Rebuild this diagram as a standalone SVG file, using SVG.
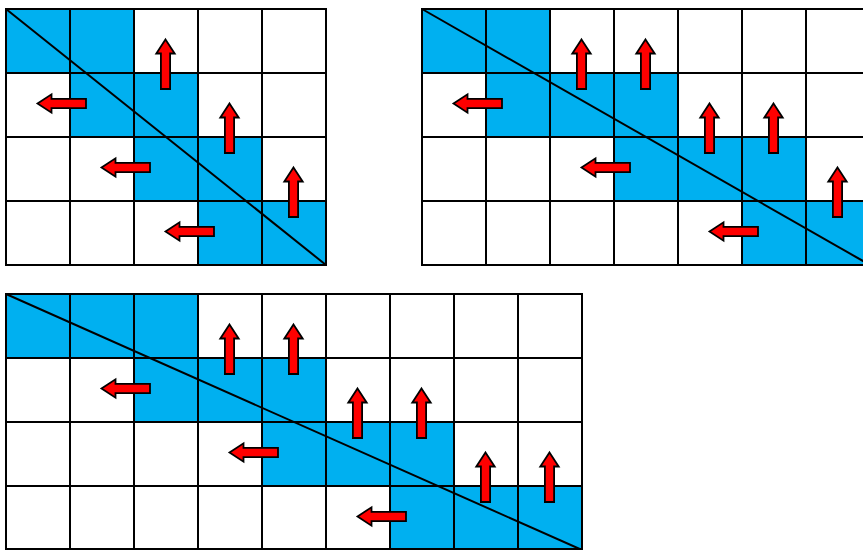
<svg xmlns="http://www.w3.org/2000/svg" xmlns:xlink="http://www.w3.org/1999/xlink" width="863" height="550" viewBox="0 0 863 550">
<style>
.bg{fill:#ffffff}
.blue{fill:#00B0F0}
.grid{stroke:#000;stroke-width:2;fill:none}
.diag{stroke:#000;stroke-width:2}
.arr{fill:#FF0000;stroke:#000;stroke-width:1.8;stroke-linejoin:miter}
</style>
<defs>
<path id="la" class="arr" d="M0,0 L14,-9.2 L14,-4.6 L48.5,-4.6 L48.5,4.6 L14,4.6 L14,9.2 Z"/>
<path id="ua" class="arr" d="M0,0 L9.2,14 L4.6,14 L4.6,49.5 L-4.6,49.5 L-4.6,14 L-9.2,14 Z"/>
</defs>
<rect class="bg" x="0" y="0" width="863" height="550"/>

<g id="grid1">
<rect class="blue" x="6" y="9" width="128" height="64"/>
<rect class="blue" x="70" y="73" width="128" height="64"/>
<rect class="blue" x="134" y="137" width="128" height="64"/>
<rect class="blue" x="198" y="201" width="128" height="64"/>
<path class="grid" d="M6,9V265M70,9V265M134,9V265M198,9V265M262,9V265M326,9V265M5,9H327M5,73H327M5,137H327M5,201H327M5,265H327"/>
<line class="diag" x1="6" y1="9" x2="326" y2="265"/>
<g id="arrows1">
<use xlink:href="#ua" x="165.5" y="39.5"/>
<use xlink:href="#ua" x="229.5" y="103.5"/>
<use xlink:href="#ua" x="293.5" y="167.5"/>
<use xlink:href="#la" x="37.5" y="103.5"/>
<use xlink:href="#la" x="101.5" y="167.5"/>
<use xlink:href="#la" x="165.5" y="231.5"/>
</g>
</g>

<g id="grid2">
<rect class="blue" x="422" y="9" width="128" height="64"/>
<rect class="blue" x="486" y="73" width="192" height="64"/>
<rect class="blue" x="614" y="137" width="192" height="64"/>
<rect class="blue" x="742" y="201" width="128" height="64"/>
<path class="grid" d="M422,9V265M486,9V265M550,9V265M614,9V265M678,9V265M742,9V265M806,9V265M870,9V265M421,9H871M421,73H871M421,137H871M421,201H871M421,265H871"/>
<line class="diag" x1="422" y1="9" x2="870" y2="265"/>
<g id="arrows2">
<use xlink:href="#ua" x="581.5" y="39.5"/>
<use xlink:href="#ua" x="645.5" y="39.5"/>
<use xlink:href="#ua" x="709.5" y="103.5"/>
<use xlink:href="#ua" x="773.5" y="103.5"/>
<use xlink:href="#ua" x="837.5" y="167.5"/>
<use xlink:href="#la" x="453.5" y="103.5"/>
<use xlink:href="#la" x="581.5" y="167.5"/>
<use xlink:href="#la" x="709.5" y="231.5"/>
</g>
</g>

<g id="grid3">
<rect class="blue" x="6" y="294" width="192" height="64"/>
<rect class="blue" x="134" y="358" width="192" height="64"/>
<rect class="blue" x="262" y="422" width="192" height="64"/>
<rect class="blue" x="390" y="486" width="192" height="64"/>
<path class="grid" d="M6,294V550M70,294V550M134,294V550M198,294V550M262,294V550M326,294V550M390,294V550M454,294V550M518,294V550M582,294V550M5,294H583M5,358H583M5,422H583M5,486H583M5,549H583"/>
<line class="diag" x1="6" y1="294" x2="582" y2="550"/>
<g id="arrows3">
<use xlink:href="#ua" x="229.5" y="324.5"/>
<use xlink:href="#ua" x="293.5" y="324.5"/>
<use xlink:href="#ua" x="357.5" y="388.5"/>
<use xlink:href="#ua" x="421.5" y="388.5"/>
<use xlink:href="#ua" x="485.5" y="452.5"/>
<use xlink:href="#ua" x="549.5" y="452.5"/>
<use xlink:href="#la" x="101.5" y="388.5"/>
<use xlink:href="#la" x="229.5" y="452.5"/>
<use xlink:href="#la" x="357.5" y="516.5"/>
</g>
</g>
</svg>
